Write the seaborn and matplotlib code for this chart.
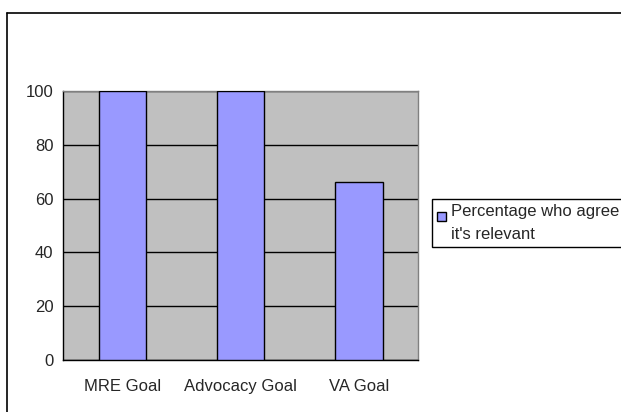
import matplotlib
matplotlib.use("Agg")
import matplotlib.pyplot as plt
import seaborn as sns
import pandas as pd
from matplotlib.lines import Line2D
from matplotlib.patches import Rectangle
from matplotlib.container import BarContainer
from matplotlib.legend_handler import HandlerPatch

categories = ["MRE Goal", "Advocacy Goal", "VA Goal"]
values = [100, 100, 66]
series_label = "Percentage who agree\nit's relevant"
y_ticks = [0, 20, 40, 60, 80, 100]

sns.set_style("white")
plt.rcParams['font.family'] = ['Liberation Sans', 'DejaVu Sans']
plt.rcParams['font.size'] = 12

W, H = 621, 412
fig = plt.figure(figsize=(W / 100, H / 100), dpi=100)
ax = fig.add_axes([63 / W, 1 - 360 / H, (418 - 63) / W, (360 - 91) / H])
ax.set_facecolor("#C0C0C0")

df = pd.DataFrame({"goal": categories, "pct": values})
sns.barplot(data=df, x="goal", y="pct", ax=ax, color="#9999FF", width=0.4,
            edgecolor="black", linewidth=1, saturation=1, label=series_label, zorder=3)
for p in ax.patches:
    p.set_facecolor("#9999FF")

ax.set_xlim(-0.5, len(categories) - 0.5)
ax.set_ylim(0, 100)
ax.set_yticks(y_ticks)
ax.yaxis.grid(True, color="black", linewidth=1)
ax.set_axisbelow(True)
ax.set_xlabel("")
ax.set_ylabel("")

ax.set_xticks(range(len(categories)))
ax.set_xticklabels(categories)
ax.set_xticks([i - 0.5 for i in range(len(categories) + 1)], minor=True)
ax.tick_params(axis="x", which="major", length=0, pad=14, labelsize=12)
ax.tick_params(axis="x", which="minor", length=5, width=1, color="black", direction="out")
ax.tick_params(axis="y", length=5, width=1, color="black", direction="out", pad=2, labelsize=12)

for side in ["left", "bottom"]:
    ax.spines[side].set_color("black")
    ax.spines[side].set_linewidth(1)
for side in ["top", "right"]:
    ax.spines[side].set_color("#808080")
    ax.spines[side].set_linewidth(1)


# legend square sits next to the first line of the label, like the original
def top_square(legend, orig_handle, xdescent, ydescent, width, height, fontsize):
    return Rectangle((-xdescent, -ydescent + height - width), width, width)


def first_bar_style(legend_handle, orig_handle):
    legend_handle.update_from(orig_handle[0])


leg = ax.legend(loc="upper left", bbox_to_anchor=(432 / W, 1 - 199 / H),
                bbox_transform=fig.transFigure, frameon=True, fancybox=False,
                edgecolor="black", framealpha=1, handlelength=0.55, handleheight=1.85,
                handletextpad=0.3, borderpad=0.3, fontsize=12, borderaxespad=0,
                handler_map={BarContainer: HandlerPatch(patch_func=top_square,
                                                        update_func=first_bar_style)})
leg.get_frame().set_linewidth(1)
for t in leg.get_texts():
    t.set_linespacing(1.7)

# outer chart border (top and left visible)
fig.add_artist(Line2D([7 / W, 7 / W], [0, 1 - 13 / H], transform=fig.transFigure,
                      color="black", linewidth=1.2))
fig.add_artist(Line2D([7 / W, 1], [1 - 13 / H, 1 - 13 / H], transform=fig.transFigure,
                      color="black", linewidth=1.2))

fig.savefig("out.png", dpi=100)
